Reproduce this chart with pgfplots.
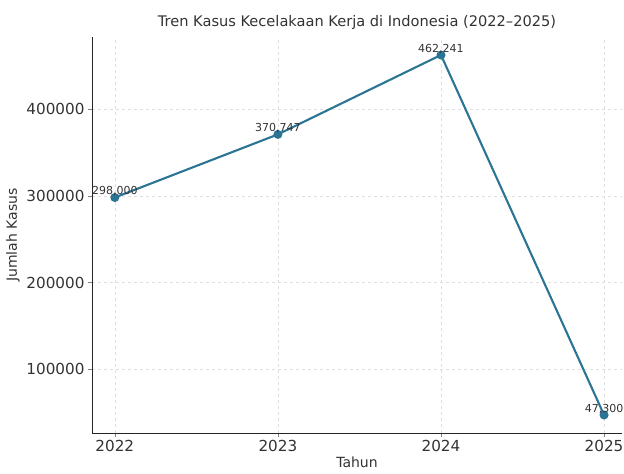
\documentclass[border=0pt]{standalone}
\usepackage{fontspec}
\setmainfont{DejaVu Sans}
\usepackage{pgfplots}
\pgfplotsset{compat=1.18}
\definecolor{linec}{HTML}{2B7494}
\definecolor{txt}{HTML}{333333}
\begin{document}
\begin{tikzpicture}
\begin{axis}[
    scale only axis,
    width=530pt, height=396pt,
    xmin=2021.86, xmax=2025.11,
    ymin=26553, ymax=482988,
    xtick={2022,2023,2024,2025},
    ytick={100000,200000,300000,400000},
    xticklabel style={/pgf/number format/1000 sep={}},
    yticklabel style={/pgf/number format/fixed,/pgf/number format/1000 sep={}},
    scaled y ticks=false,
    /pgf/number format/assume math mode=true,
    tick label style={font=\fontsize{15.2}{17}\selectfont, text=txt},
    axis x line*=bottom, axis y line*=left,
    tick align=outside,
    major tick length=4pt,
    grid=major,
    grid style={dashed, gray!25, line width=0.5pt},
    axis line style={line width=0.9pt, black!85},
    xlabel={Tahun}, ylabel={Jumlah Kasus},
    label style={font=\fontsize{14}{16}\selectfont, text=txt},
    ylabel style={yshift=0pt},
    xlabel style={yshift=2pt},
    title={Tren Kasus Kecelakaan Kerja di Indonesia (2022–2025)},
    title style={font=\fontsize{14.6}{16}\selectfont, text=txt, yshift=-2pt},
    clip=false,
]
\addplot[
    color=linec, line width=2.1pt,
    mark=*, mark size=3.4pt, mark options={fill=linec, draw=linec},
    point meta=explicit symbolic,
    nodes near coords,
    every node near coord/.style={font=\fontsize{11}{12}\selectfont, text=txt, anchor=south, yshift=-3pt},
    ]
    coordinates {
    (2022,298000) [298,000]
    (2023,370747) [370,747]
    (2024,462241) [462,241]
    (2025,47300) [47,300]
    };
\end{axis}
\pgfresetboundingbox
\path ([shift={(-92pt,-40pt)}]current axis.south west) rectangle ([shift={(2pt,37pt)}]current axis.north east);
\end{tikzpicture}
\end{document}
